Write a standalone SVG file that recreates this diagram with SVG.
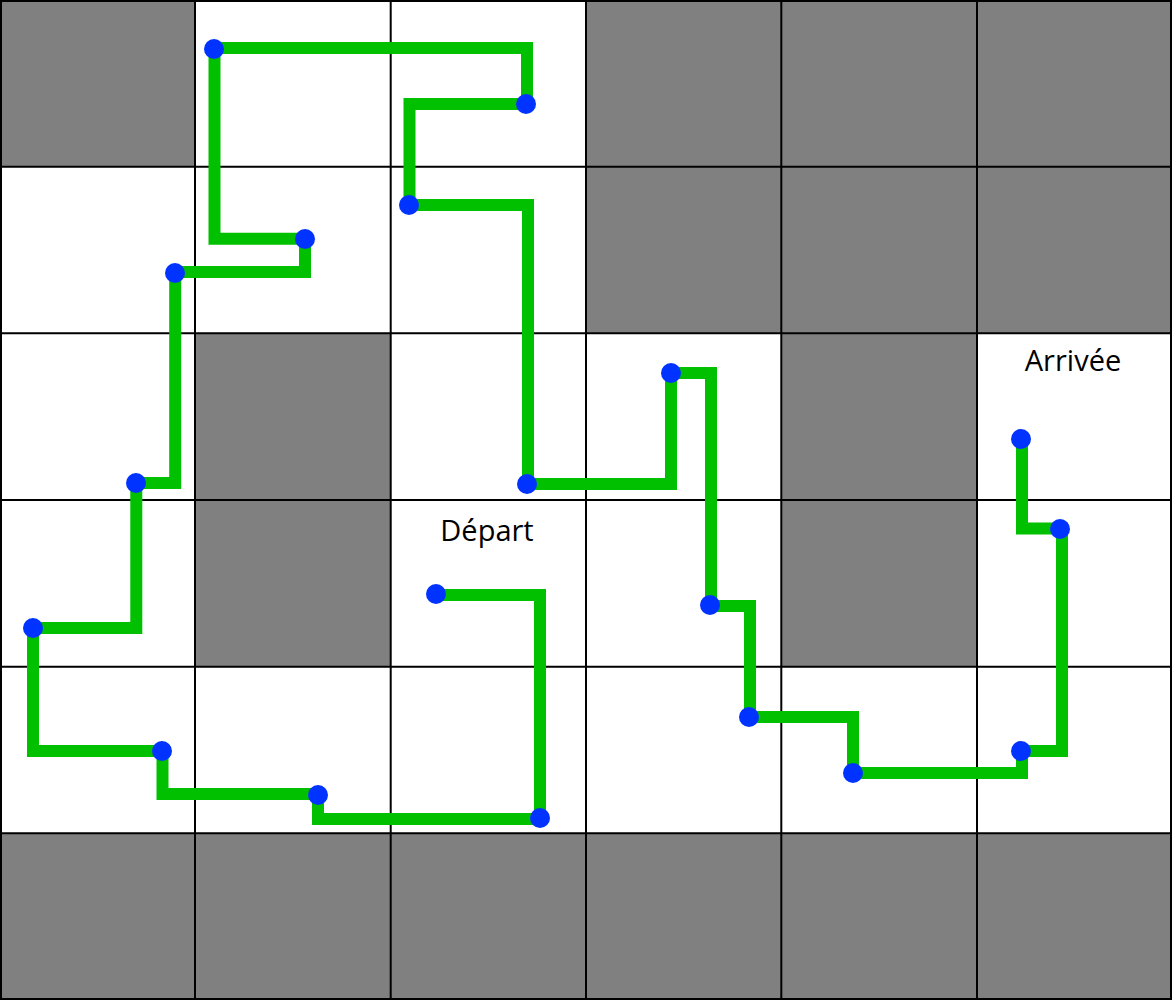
<svg xmlns="http://www.w3.org/2000/svg" width="1172" height="1001" viewBox="0 0 1172 1001">
<style>
.cell{fill:#808080}
.grid{stroke:#000;stroke-width:2;fill:none}
.route{fill:none;stroke:#00C000;stroke-width:12;stroke-linejoin:miter;stroke-linecap:butt}
.dot{fill:#0033FF}
.lbl{font-family:"Open Sans","Noto Sans",sans-serif;font-size:29px;fill:#000;text-anchor:middle}
</style>
<rect width="1172" height="1001" fill="#fff"/>
<g id="blocked-cells">
<rect class="cell" x="0" y="0" width="195" height="167"/>
<rect class="cell" x="586" y="0" width="586" height="333"/>
<rect class="cell" x="195" y="333" width="196" height="334"/>
<rect class="cell" x="781" y="333" width="196" height="334"/>
<rect class="cell" x="0" y="833" width="1172" height="167"/>
</g>
<g id="grid" class="grid">
<rect x="1" y="1" width="1170" height="998"/>
<path d="M195 0V1000M390.7 0V1000M586 0V1000M781.3 0V1000M977 0V1000M0 166.7H1172M0 333.3H1172M0 500H1172M0 666.7H1172M0 833.3H1172"/>
</g>
<g id="connectors">
<path class="route" d="M436 595H540V819H318V794H162.5V751H33V628H136.3V483H175.2V272H305V238.7H214.5V48H527V104H409.5V205H528V484H671V373H711V606H750V717H853V773H1022V751H1062V528.5H1022V439"/>
</g>
<g id="labels">
<text class="lbl" x="487" y="541">Départ</text>
<text class="lbl" x="1073" y="371">Arrivée</text>
</g>
<g id="nodes">
<g id="n1"><circle class="dot" cx="436" cy="594" r="10"/></g>
<g id="n2"><circle class="dot" cx="540" cy="818" r="10"/></g>
<g id="n3"><circle class="dot" cx="318" cy="795" r="10"/></g>
<g id="n4"><circle class="dot" cx="162" cy="751" r="10"/></g>
<g id="n5"><circle class="dot" cx="33" cy="628" r="10"/></g>
<g id="n6"><circle class="dot" cx="136" cy="483" r="10"/></g>
<g id="n7"><circle class="dot" cx="175" cy="273" r="10"/></g>
<g id="n8"><circle class="dot" cx="305" cy="239" r="10"/></g>
<g id="n9"><circle class="dot" cx="214" cy="49" r="10"/></g>
<g id="n10"><circle class="dot" cx="526" cy="104" r="10"/></g>
<g id="n11"><circle class="dot" cx="409" cy="205" r="10"/></g>
<g id="n12"><circle class="dot" cx="527" cy="484" r="10"/></g>
<g id="n13"><circle class="dot" cx="671" cy="373" r="10"/></g>
<g id="n14"><circle class="dot" cx="710" cy="605" r="10"/></g>
<g id="n15"><circle class="dot" cx="749" cy="717" r="10"/></g>
<g id="n16"><circle class="dot" cx="853" cy="773" r="10"/></g>
<g id="n17"><circle class="dot" cx="1021" cy="751" r="10"/></g>
<g id="n18"><circle class="dot" cx="1060" cy="529" r="10"/></g>
<g id="n19"><circle class="dot" cx="1021" cy="439" r="10"/></g>
</g>
</svg>
